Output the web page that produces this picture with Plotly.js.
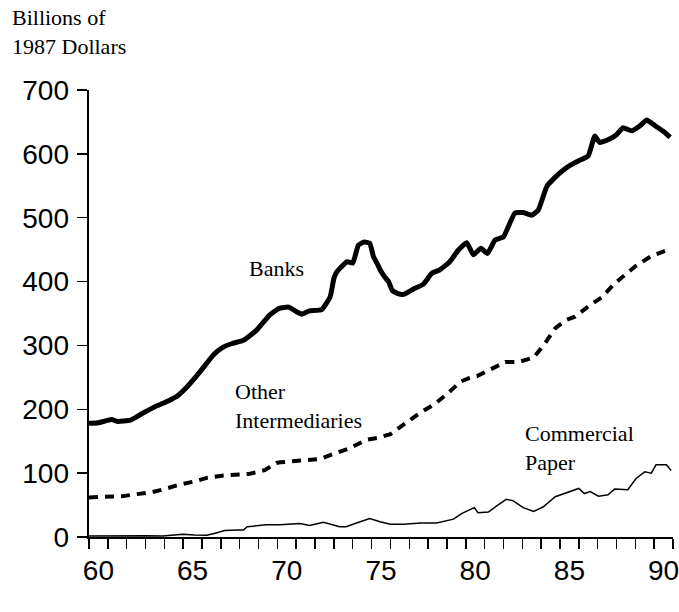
<!DOCTYPE html>
<html>
<head>
<meta charset="utf-8">
<script src="https://cdn.plot.ly/plotly-3.0.1.min.js"></script>
<style>html,body{margin:0;padding:0;background:#fff;}#chart{width:679px;height:612px;}</style>
</head>
<body>
<div id="chart"></div>
<script>
// Banks
const banksYears = [1960.0,1960.5,1961.2,1961.5,1962.2,1962.8,1963.5,1964.2,1964.65,1965.2,1965.9,1966.6,1967.1,1967.6,1968.2,1968.9,1969.6,1970.1,1970.6,1971.0,1971.3,1971.7,1972.35,1972.8,1973.0,1973.15,1973.7,1974.0,1974.3,1974.6,1974.9,1975.1,1975.3,1975.5,1975.7,1975.9,1976.1,1976.4,1976.7,1977.2,1977.75,1978.2,1978.6,1979.15,1979.6,1980.05,1980.4,1980.8,1981.15,1981.55,1982.0,1982.6,1983.05,1983.5,1983.85,1984.3,1984.7,1985.2,1985.6,1986.05,1986.5,1986.85,1987.1,1987.55,1988.0,1988.35,1988.8,1989.25,1989.6,1990.05,1990.5,1990.85];
const banksValues = [178,179,184,181,183,193,204,213,220,235,259,285,297,303,308,324,348,358,360,353,349,354,356,376,405,415,431,429,457,462,460,439,428,416,407,400,386,381,380,388,396,413,418,431,449,461,442,452,444,465,470,507,508,504,512,549,562,575,583,590,597,628,618,622,630,641,636,644,653,644,635,626];
// Other intermediaries
const otherYears = [1960.0,1961.0,1961.8,1962.5,1963.3,1964.0,1964.8,1965.6,1966.3,1967.05,1967.85,1968.55,1969.35,1969.95,1970.15,1971.55,1972.25,1973.15,1973.85,1974.7,1975.3,1976.0,1976.8,1977.6,1978.3,1979.05,1979.7,1980.2,1980.6,1981.3,1982.1,1982.8,1983.6,1984.2,1984.75,1985.35,1985.8,1986.5,1987.2,1987.9,1988.55,1989.0,1989.85,1990.5,1990.75];
const otherValues = [62,63,64,67,70,75,82,87,93,96,97,99,105,116,117,121,122,132,139,152,155,161,178,195,207,225,243,249,252,263,274,274,281,303,327,340,345,361,375,397,414,424,440,447,450];
// Commercial paper
const cpYears = [1960.0,1961.0,1962.2,1963.0,1963.9,1965.0,1965.6,1966.25,1966.7,1967.2,1967.85,1968.2,1968.4,1969.4,1970.15,1971.2,1971.7,1972.45,1973.3,1973.65,1974.2,1974.9,1975.45,1976.0,1976.7,1977.6,1978.45,1979.35,1979.8,1980.45,1980.65,1981.2,1981.7,1982.15,1982.5,1983.05,1983.6,1984.1,1984.75,1985.35,1986.0,1986.3,1986.6,1987.05,1987.55,1987.9,1988.6,1989.05,1989.5,1989.85,1990.1,1990.65,1990.9];
const cpValues = [1.5,2,2.6,2,1.5,4.5,3,2.6,6,10,11,11,16,19,19,21,18,23,16,16,22,29,24,20,20,22,22,28,37,46,38,39,50,59,57,46,40,47,63,69,76,68,71,64,66,75,74,92,102,100,113,113,104];
// Axis labels
const yTicks = [0,100,200,300,400,500,600,700];
const xLabelYears = [1960,1965,1970,1975,1980,1985,1990];
const xLabelText = ["60","65","70","75","80","85","90"];
const yearTicks = [];
for (let y = 1960; y <= 1991; y++) yearTicks.push(y);

const sans = "Liberation Sans, Arial, sans-serif";
const serif = "Liberation Serif, Times New Roman, serif";

// geometry: plot frame x 89..673, y 90..537 in a 679x612 page
const ML = 60, MB = 40, MT = 90, MR = 6;
const W = 679, H = 612;
const pw = W - ML - MR, ph = H - MT - MB;
const xDomStart = (89 - ML) / pw;
const yDomStart = (H - MB - 537) / ph;

const traces = [
  {x: banksYears, y: banksValues, mode: 'lines', line: {color: '#000', width: 5, shape: 'spline', smoothing: 0.4}, hoverinfo: 'skip'},
  {x: otherYears, y: otherValues, mode: 'lines', line: {color: '#000', width: 4, dash: '9px,7px'}, hoverinfo: 'skip'},
  {x: cpYears, y: cpValues, mode: 'lines', line: {color: '#000', width: 1.5}, hoverinfo: 'skip'},
  {x: [], y: [], xaxis: 'x2', yaxis: 'y2', mode: 'lines', hoverinfo: 'skip', showlegend: false}
];

const layout = {
  width: W, height: H,
  margin: {l: ML, r: MR, t: MT, b: MB},
  paper_bgcolor: '#fff', plot_bgcolor: '#fff',
  showlegend: false,
  xaxis: {
    domain: [xDomStart, 1],
    range: [1960, 1991],
    tickmode: 'array',
    tickvals: yearTicks,
    ticktext: yearTicks.map(() => ''),
    ticks: 'outside', ticklen: 10, tickwidth: 1.5, tickcolor: '#000',
    showgrid: false, zeroline: false,
    showline: true, linecolor: '#000', linewidth: 2
  },
  yaxis: {
    domain: [yDomStart, 1],
    range: [0, 700],
    tickmode: 'array',
    tickvals: yTicks,
    ticktext: yTicks.map(() => ''),
    ticks: 'outside', ticklen: 10, tickwidth: 1.5, tickcolor: '#000',
    showgrid: false, zeroline: false,
    showline: true, linecolor: '#000', linewidth: 2
  },
  xaxis2: {
    overlaying: 'x',
    anchor: 'free',
    position: (H - MB - 551) / ph,
    side: 'bottom',
    range: [1960, 1991],
    tickmode: 'array',
    tickvals: xLabelYears.map(v => v + 0.5),
    ticktext: xLabelText,
    ticks: '',
    ticklabeloverflow: 'allow',
    tickfont: {family: sans, size: 28, color: '#000'},
    showgrid: false, zeroline: false, showline: false
  },
  yaxis2: {
    overlaying: 'y',
    anchor: 'free',
    position: (69 - ML) / pw,
    side: 'left',
    range: [0, 700],
    tickmode: 'array',
    tickvals: yTicks,
    ticktext: yTicks.map(String),
    ticks: '',
    ticklabeloverflow: 'allow',
    tickfont: {family: sans, size: 28, color: '#000'},
    showgrid: false, zeroline: false, showline: false
  },
  annotations: [
    {text: 'Billions of<br>1987 Dollars', xref: 'paper', yref: 'paper', x: (10 - 89) / 584 * 584 / pw + xDomStart, y: (H - MB - 32.5) / ph, xanchor: 'left', yanchor: 'middle', align: 'left', showarrow: false, font: {family: serif, size: 22, color: '#000'}},
    {text: 'Banks', xref: 'paper', yref: 'paper', x: (247 - ML) / pw, y: (H - MB - 268) / ph, xanchor: 'left', yanchor: 'middle', align: 'left', showarrow: false, font: {family: serif, size: 22, color: '#000'}},
    {text: 'Other<br>Intermediaries', xref: 'paper', yref: 'paper', x: (233 - ML) / pw, y: (H - MB - 406) / ph, xanchor: 'left', yanchor: 'middle', align: 'left', showarrow: false, font: {family: serif, size: 22, color: '#000'}},
    {text: 'Commercial<br>Paper', xref: 'paper', yref: 'paper', x: (523 - ML) / pw, y: (H - MB - 447.5) / ph, xanchor: 'left', yanchor: 'middle', align: 'left', showarrow: false, font: {family: serif, size: 22, color: '#000'}}
  ]
};

Plotly.newPlot('chart', traces, layout, {staticPlot: true, displayModeBar: false});
</script>
</body>
</html>
